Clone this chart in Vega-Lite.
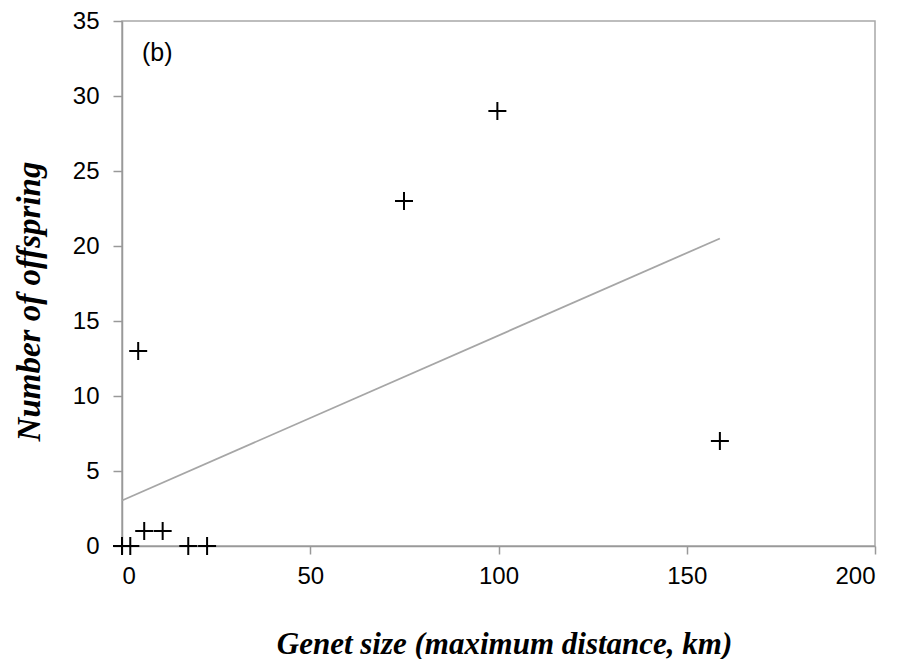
{
  "$schema": "https://vega.github.io/schema/vega-lite/v6.json",
  "width": 753,
  "height": 525,
  "autosize": {"type": "none"},
  "padding": {"left": 122, "top": 21, "right": 25, "bottom": 113},
  "background": "white",
  "config": {
    "view": {"stroke": "#a8a8a8", "strokeWidth": 1.5},
    "axis": {
      "grid": false,
      "domainColor": "#999999",
      "domainWidth": 1.5,
      "tickColor": "#999999",
      "tickWidth": 1.5,
      "labelFont": "Liberation Sans",
      "labelFontSize": 24,
      "labelColor": "black",
      "titleFont": "Liberation Serif",
      "titleFontStyle": "italic",
      "titleFontWeight": "bold",
      "titleColor": "black"
    }
  },
  "datasets": {
    "points": [
      {"genet": 0, "offspring": 0},
      {"genet": 2.2, "offspring": 0},
      {"genet": 17.6, "offspring": 0},
      {"genet": 22.6, "offspring": 0},
      {"genet": 5.9, "offspring": 1},
      {"genet": 10.8, "offspring": 1},
      {"genet": 4.3, "offspring": 13},
      {"genet": 74.9, "offspring": 23},
      {"genet": 99.7, "offspring": 29},
      {"genet": 158.8, "offspring": 7}
    ],
    "labels": [
      {"genet": 5.3, "offspring": 32.9, "label": "(b)"}
    ]
  },
  "layer": [
    {
      "data": {"name": "points"},
      "transform": [{"regression": "offspring", "on": "genet", "method": "linear"}],
      "mark": {"type": "line", "color": "#a6a6a6", "strokeWidth": 1.8},
      "encoding": {
        "x": {
          "field": "genet",
          "type": "quantitative",
          "scale": {"domain": [0, 200], "nice": false, "zero": false},
          "axis": {
            "values": [0, 50, 100, 150, 200],
            "tickSize": 8,
            "labelPadding": 10,
            "title": "Genet size (maximum distance, km)",
            "titleFontSize": 31,
            "titleX": 382,
            "titleY": 107,
            "titleBaseline": "alphabetic"
          }
        },
        "y": {
          "field": "offspring",
          "type": "quantitative",
          "scale": {"domain": [0, 35], "nice": false},
          "axis": {
            "values": [0, 5, 10, 15, 20, 25, 30, 35],
            "tickSize": 9,
            "labelPadding": 14,
            "title": "Number of offspring",
            "titleFontSize": 33,
            "titleAngle": -90,
            "titleX": -93,
            "titleY": 280,
            "titleAlign": "center",
            "titleBaseline": "middle"
          }
        }
      }
    },
    {
      "data": {"name": "points"},
      "mark": {
        "type": "point",
        "shape": "M-1,0L1,0M0,-1L0,1",
        "size": 324,
        "strokeWidth": 2,
        "color": "black",
        "filled": false,
        "opacity": 1
      },
      "encoding": {
        "x": {"field": "genet", "type": "quantitative"},
        "y": {"field": "offspring", "type": "quantitative"}
      }
    },
    {
      "data": {"name": "labels"},
      "mark": {
        "type": "text",
        "align": "left",
        "baseline": "middle",
        "font": "Liberation Sans",
        "fontSize": 25,
        "color": "black"
      },
      "encoding": {
        "x": {"field": "genet", "type": "quantitative"},
        "y": {"field": "offspring", "type": "quantitative"},
        "text": {"field": "label"}
      }
    }
  ]
}
